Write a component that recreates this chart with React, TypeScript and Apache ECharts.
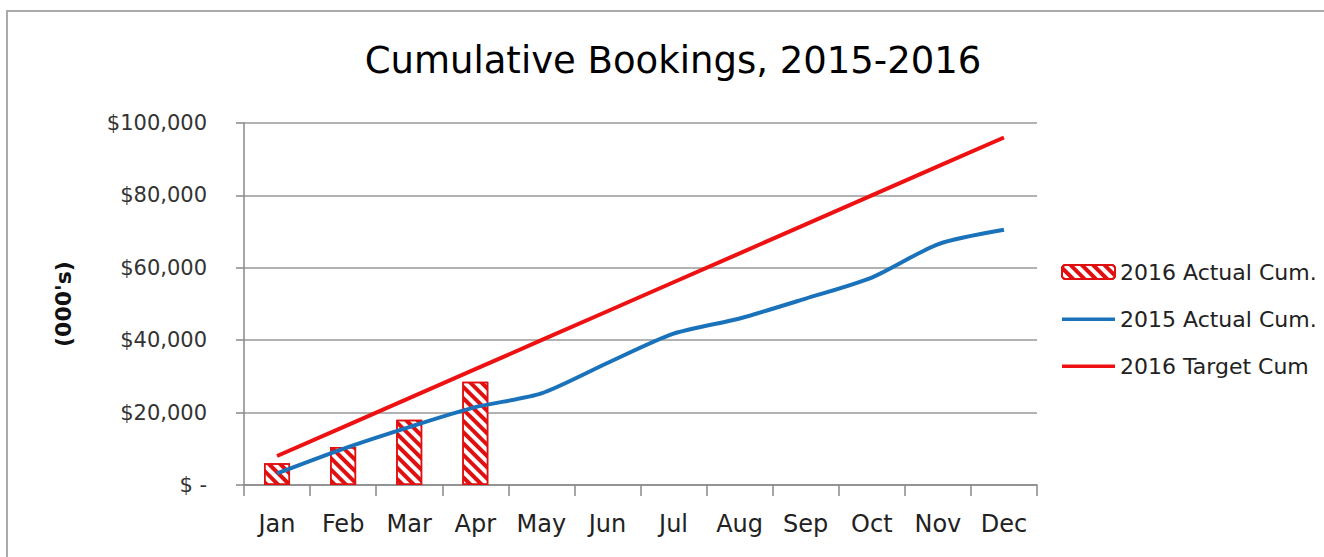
import React, { useEffect, useRef } from "react";
import * as echarts from "echarts";

const months = ["Jan", "Feb", "Mar", "Apr", "May", "Jun", "Jul", "Aug", "Sep", "Oct", "Nov", "Dec"];
const actual2016 = [6000, 10500, 18000, 28500, null, null, null, null, null, null, null, null];
const actual2015 = [3200, 10000, 16000, 21500, 25300, 33700, 41800, 46000, 51500, 57300, 66500, 70500];
const target2016 = [8000, 16000, 24000, 32000, 40000, 48000, 56000, 64000, 72000, 80000, 88000, 96000];
const yTicks = [0, 20000, 40000, 60000, 80000, 100000];

const lineIcon = "path://M0,0 M0,5.5 L53,5.5 L53,9 L0,9 Z M53,14";

export default function App() {
  const ref = useRef<HTMLDivElement>(null);
  useEffect(() => {
    if (!ref.current) return;
    const chart = echarts.init(ref.current, null, { renderer: "svg" });
    const font = "DejaVu Sans";
    chart.setOption({
      animation: false,
      backgroundColor: "#ffffff",
      title: {
        text: "Cumulative Bookings, 2015-2016",
        left: 668,
        textAlign: "center",
        top: 37,
        textStyle: { fontFamily: font, fontSize: 37, fontWeight: "normal", color: "#000" },
      },
      graphic: [
        {
          type: "rect",
          shape: { x: 7, y: 11, width: 1330, height: 560 },
          style: { fill: "none", stroke: "#aaaaaa", lineWidth: 2 },
          silent: true,
        },
      ],
      legend: {
        orient: "vertical",
        left: 1056,
        top: 256,
        itemWidth: 53,
        itemHeight: 14,
        itemGap: 25,
        textStyle: { fontFamily: font, fontSize: 22, color: "#222" },
        data: [
          { name: "2016 Actual Cum." },
          { name: "2015 Actual Cum.", icon: lineIcon },
          { name: "2016 Target Cum", icon: lineIcon },
        ],
      },
      grid: { left: 244, right: 287, top: 123, bottom: 72 },
      xAxis: {
        type: "category",
        data: months,
        boundaryGap: true,
        axisLine: { lineStyle: { color: "#888", width: 1.5 } },
        axisTick: { show: true, length: 11, lineStyle: { color: "#888", width: 1.5 } },
        axisLabel: { fontFamily: font, fontSize: 24, color: "#222", margin: 27 },
      },
      yAxis: {
        type: "value",
        min: 0,
        max: 100000,
        interval: 20000,
        name: "(000's)",
        nameLocation: "middle",
        nameRotate: 90,
        nameGap: 170,
        nameTextStyle: { fontFamily: font, fontSize: 22, fontWeight: "bold", color: "#111" },
        axisLine: { show: true, lineStyle: { color: "#888", width: 1.5 } },
        axisTick: { show: true, length: 8, lineStyle: { color: "#888", width: 1.5 } },
        splitLine: { lineStyle: { color: "#999", width: 1.5 } },
        axisLabel: {
          fontFamily: font,
          fontSize: 21,
          color: "#333",
          margin: 37,
          formatter: (v: number) =>
            yTicks.includes(v) ? (v === 0 ? "$ -" : "$" + v.toLocaleString("en-US")) : "",
        },
      },
      series: [
        {
          name: "2016 Actual Cum.",
          type: "bar",
          data: actual2016,
          barWidth: 26,
          itemStyle: {
            color: "#ffffff",
            borderColor: "#e01010",
            borderWidth: 1.5,
            decal: {
              symbol: "rect",
              symbolSize: 1,
              dashArrayX: [[1, 0]],
              dashArrayY: [4, 4],
              rotation: Math.PI / 4,
              color: "#e01010",
              backgroundColor: "rgba(0,0,0,0)",
            },
          },
          z: 1,
        },
        {
          name: "2015 Actual Cum.",
          type: "line",
          data: actual2015,
          smooth: 0.25,
          symbol: "none",
          lineStyle: { color: "#1a72bb", width: 4 },
          itemStyle: { color: "#1a72bb" },
          z: 3,
        },
        {
          name: "2016 Target Cum",
          type: "line",
          data: target2016,
          symbol: "none",
          lineStyle: { color: "#ee1111", width: 4 },
          itemStyle: { color: "#ee1111" },
          z: 2,
        },
      ],
    });
    return () => chart.dispose();
  }, []);
  return (
    <div
      ref={ref}
      style={{ position: "absolute", left: 0, top: 0, width: 1324, height: 557 }}
    />
  );
}
